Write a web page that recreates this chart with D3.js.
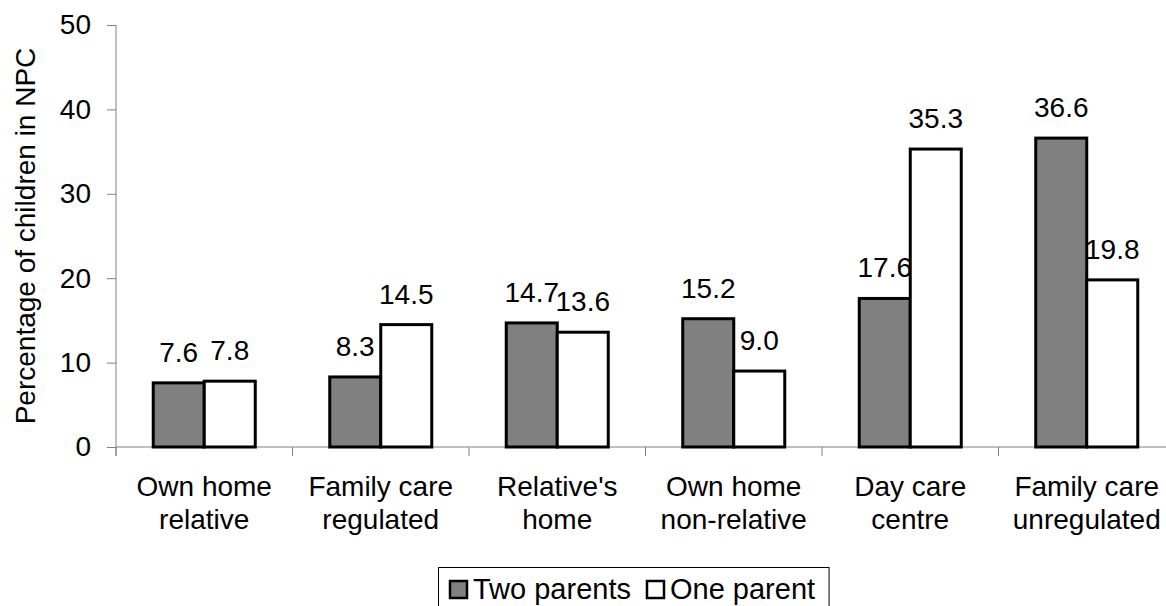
<!DOCTYPE html>
<html>
<head>
<meta charset="utf-8">
<script src="https://cdn.jsdelivr.net/npm/d3@7"></script>
<style>
  html, body { margin: 0; padding: 0; background: #fff; }
  svg { display: block; font-family: "Liberation Sans", Arial, sans-serif; }
</style>
</head>
<body>
<svg id="chart" width="1166" height="606"></svg>
<script>
// Care arrangements (two-line labels) and the share of children in each
const categories = [
  ["Own home", "relative"],
  ["Family care", "regulated"],
  ["Relative's", "home"],
  ["Own home", "non-relative"],
  ["Day care", "centre"],
  ["Family care", "unregulated"]
];
const seriesNames = ["Two parents", "One parent"];
const twoParents = [7.6, 8.3, 14.7, 15.2, 17.6, 36.6];
const oneParent = [7.8, 14.5, 13.6, 9.0, 35.3, 19.8];
const yTicks = [0, 10, 20, 30, 40, 50];
const fills = ["#808080", "#ffffff"];

(function draw() {
  const svg = d3.select("#chart");
  const plotLeft = 116, plotRight = 1175, plotTop = 25, plotBottom = 447;
  const fontSize = 28;

  const x0 = d3.scaleBand()
    .domain(d3.range(categories.length))
    .range([plotLeft, plotRight])
    .paddingInner(0.422)
    .paddingOuter(0.211);
  const x1 = d3.scaleBand().domain([0, 1]).range([0, x0.bandwidth()]);
  const y = d3.scaleLinear().domain([0, 50]).range([plotBottom, plotTop]);

  // Y axis
  const yAxis = svg.append("g")
    .attr("transform", `translate(${plotLeft},0)`)
    .call(d3.axisLeft(y).tickValues(yTicks).tickSize(9).tickPadding(16).tickFormat(d3.format("d")));
  yAxis.select(".domain").attr("stroke", "#808080").attr("d", `M0,${plotTop}V${plotBottom + 9}`);
  yAxis.selectAll(".tick line").attr("stroke", "#808080");
  yAxis.selectAll(".tick text").attr("font-size", fontSize).attr("fill", "#000")
    .attr("font-family", "Liberation Sans, Arial, sans-serif");

  // X axis baseline with ticks at the category boundaries
  const xAxisG = svg.append("g");
  xAxisG.append("line")
    .attr("x1", plotLeft).attr("x2", plotRight)
    .attr("y1", plotBottom).attr("y2", plotBottom)
    .attr("stroke", "#808080");
  const step = x0.step();
  xAxisG.selectAll("line.tick")
    .data(d3.range(categories.length + 1))
    .join("line")
    .attr("class", "tick")
    .attr("x1", i => plotLeft + i * step).attr("x2", i => plotLeft + i * step)
    .attr("y1", plotBottom).attr("y2", plotBottom + 9)
    .attr("stroke", "#808080");

  // Category labels
  const catLabels = svg.append("g")
    .selectAll("text")
    .data(categories)
    .join("text")
    .attr("text-anchor", "middle")
    .attr("font-size", fontSize)
    .attr("fill", "#000");
  catLabels.selectAll("tspan")
    .data((d, i) => d.map(line => ({ line, i })))
    .join("tspan")
    .attr("x", d => x0(d.i) + x0.bandwidth() / 2)
    .attr("y", (d, j) => 496 + j * 33)
    .text(d => d.line);

  // Y axis title
  svg.append("text")
    .attr("transform", "translate(35,236) rotate(-90)")
    .attr("text-anchor", "middle")
    .attr("font-size", fontSize)
    .attr("fill", "#000")
    .text("Percentage of children in NPC");

  // Bars
  const series = [twoParents, oneParent];
  const groups = svg.append("g")
    .selectAll("g")
    .data(series)
    .join("g");
  groups.selectAll("rect")
    .data((vals, s) => vals.map((v, i) => ({ v, i, s })))
    .join("rect")
    .attr("x", d => x0(d.i) + x1(d.s))
    .attr("y", d => y(d.v))
    .attr("width", x1.bandwidth())
    .attr("height", d => y(0) - y(d.v))
    .attr("fill", d => fills[d.s])
    .attr("stroke", "#000")
    .attr("stroke-width", 3);

  // Value labels
  groups.selectAll("text")
    .data((vals, s) => vals.map((v, i) => ({ v, i, s })))
    .join("text")
    .attr("x", d => x0(d.i) + x1(d.s) + x1.bandwidth() / 2)
    .attr("y", d => y(d.v) - 21)
    .attr("text-anchor", "middle")
    .attr("font-size", fontSize)
    .attr("fill", "#000")
    .text(d => d3.format(".1f")(d.v));

  // Legend
  const legend = svg.append("g");
  const legendBox = legend.append("rect")
    .attr("x", 438.5).attr("y", 567.5)
    .attr("height", 60)
    .attr("fill", "#fff")
    .attr("stroke", "#000")
    .attr("stroke-width", 1);
  let lx = 450;
  let textEnd = lx;
  seriesNames.forEach((name, s) => {
    legend.append("rect")
      .attr("x", lx).attr("y", 581)
      .attr("width", 17).attr("height", 17)
      .attr("fill", fills[s])
      .attr("stroke", "#000")
      .attr("stroke-width", 2.5);
    const t = legend.append("text")
      .attr("x", lx + 23).attr("y", 599)
      .attr("font-size", 29)
      .attr("fill", "#000")
      .text(name);
    textEnd = lx + 23 + t.node().getComputedTextLength();
    lx = textEnd + 16;
  });
  legendBox.attr("width", textEnd + 14 - 438.5);
})();
</script>
</body>
</html>
